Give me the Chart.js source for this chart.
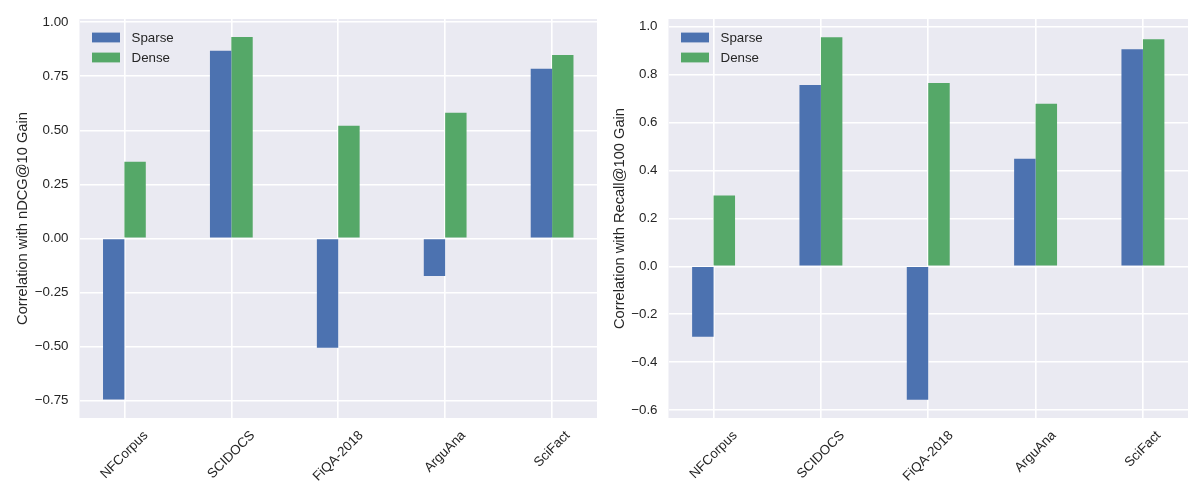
<!DOCTYPE html>
<html>
<head>
<meta charset="utf-8">
<script src="https://cdn.jsdelivr.net/npm/chart.js@4/dist/chart.umd.min.js"></script>
<style>
  html, body { margin: 0; padding: 0; background: #fff; }
  .panel { position: absolute; top: 0; width: 600px; height: 500px; }
  #left { left: 0; }
  #right { left: 600px; }
</style>
</head>
<body>
<div class="panel" id="left"><canvas id="ndcgChart" width="600" height="500"></canvas></div>
<div class="panel" id="right"><canvas id="recallChart" width="600" height="500"></canvas></div>
<script>
// values
const categories = ["NFCorpus", "SCIDOCS", "FiQA-2018", "ArguAna", "SciFact"];
const seriesNames = ["Sparse", "Dense"];
const ndcgSparse = [-0.745, 0.868, -0.506, -0.174, 0.785];
const ndcgDense = [0.355, 0.932, 0.521, 0.581, 0.849];
const recallSparse = [-0.294, 0.757, -0.557, 0.449, 0.906];
const recallDense = [0.295, 0.956, 0.765, 0.678, 0.948];
const ndcgTicks = [-0.75, -0.5, -0.25, 0, 0.25, 0.5, 0.75, 1.0];
const recallTicks = [-0.6, -0.4, -0.2, 0, 0.2, 0.4, 0.6, 0.8, 1.0];

const SPARSE_COLOR = "#4C72B0";
const DENSE_COLOR = "#55A868";
const TEXT_COLOR = "#262626";
const FONT = "'Liberation Sans', Arial, sans-serif";

Chart.defaults.font.family = FONT;
Chart.defaults.color = TEXT_COLOR;

const plotBackground = {
  id: "plotBackground",
  beforeDraw(chart) {
    const { ctx, chartArea: a } = chart;
    ctx.save();
    ctx.fillStyle = "#EAEAF2";
    ctx.fillRect(a.left, a.top, a.right - a.left, a.bottom - a.top);
    ctx.restore();
  },
};

// rotated category labels, centred on the tick like matplotlib's ha="center"
const rotatedLabels = {
  id: "rotatedLabels",
  afterDraw(chart) {
    const { ctx, chartArea: a } = chart;
    const xScale = chart.scales.x;
    const size = 13.33;
    ctx.save();
    ctx.font = `${size}px ${FONT}`;
    ctx.fillStyle = TEXT_COLOR;
    ctx.textAlign = "center";
    ctx.textBaseline = "middle";
    categories.forEach((label, i) => {
      const w = ctx.measureText(label).width;
      const h = size * 1.15;
      const cx = xScale.getPixelForValue(i);
      const cy = a.bottom + 10 + (w + h) * Math.SQRT1_2 / 2;
      ctx.save();
      ctx.translate(cx, cy);
      ctx.rotate(-Math.PI / 4);
      ctx.fillText(label, 0, 0);
      ctx.restore();
    });
    ctx.restore();
  },
};

const innerLegend = {
  id: "innerLegend",
  afterDatasetsDraw(chart) {
    const { ctx, chartArea: a } = chart;
    ctx.save();
    ctx.font = `13.33px ${FONT}`;
    ctx.textBaseline = "middle";
    ctx.textAlign = "left";
    chart.data.datasets.forEach((ds, i) => {
      const cy = a.top + 18.5 + i * 20;
      ctx.fillStyle = ds.backgroundColor;
      ctx.fillRect(a.left + 12.5, cy - 4.9, 28, 9.8);
      ctx.fillStyle = TEXT_COLOR;
      ctx.fillText(ds.label, a.left + 52, cy + 0.5);
    });
    ctx.restore();
  },
};

function formatTick(value, decimals) {
  return value.toFixed(decimals).replace("-", "\u2212");
}

function makeChart(canvasId, sparse, dense, ticks, decimals, yMin, yMax, axisWidth, padRight, titlePad, title) {
  const toPoints = (values) => values.map((v, i) => ({ x: i, y: v }));
  return new Chart(document.getElementById(canvasId), {
    type: "bar",
    data: {
      datasets: [
        { label: seriesNames[0], data: toPoints(sparse), backgroundColor: SPARSE_COLOR, borderWidth: 0 },
        { label: seriesNames[1], data: toPoints(dense), backgroundColor: DENSE_COLOR, borderWidth: 0 },
      ],
    },
    options: {
      responsive: false,
      animation: false,
      devicePixelRatio: 1,
      categoryPercentage: 0.4,
      barPercentage: 1.0,
      layout: { padding: { top: 18, right: padRight, bottom: 0, left: 0 } },
      plugins: { legend: { display: false }, tooltip: { enabled: false } },
      scales: {
        x: {
          type: "linear",
          min: -0.42,
          max: 4.42,
          offset: false,
          grid: { color: "#FFFFFF", lineWidth: 1.6, drawTicks: false, offset: false },
          border: { display: false },
          ticks: { display: false },
          afterBuildTicks(scale) {
            scale.ticks = categories.map((c, i) => ({ value: i }));
          },
          afterFit(scale) {
            scale.height = 82;
          },
        },
        y: {
          min: yMin,
          max: yMax,
          grid: { color: "#FFFFFF", lineWidth: 1.6, drawTicks: false },
          border: { display: false },
          ticks: {
            padding: 11,
            font: { size: 13.33 },
            color: TEXT_COLOR,
            callback: (value) => formatTick(value, decimals),
          },
          afterBuildTicks(scale) {
            scale.ticks = ticks.map((v) => ({ value: v }));
          },
          afterFit(scale) {
            scale.width = axisWidth;
          },
          title: {
            display: true,
            text: title,
            color: TEXT_COLOR,
            font: { size: 14.67 },
            padding: { top: titlePad, bottom: 0 },
          },
        },
      },
    },
    plugins: [plotBackground, innerLegend, rotatedLabels],
  });
}

makeChart("ndcgChart", ndcgSparse, ndcgDense, ndcgTicks, 2, -0.831, 1.015, 79.5, 3, 14, "Correlation with nDCG@10 Gain");
makeChart("recallChart", recallSparse, recallDense, recallTicks, 1, -0.633, 1.032, 68.5, 12, 11, "Correlation with Recall@100 Gain");
</script>
</body>
</html>
